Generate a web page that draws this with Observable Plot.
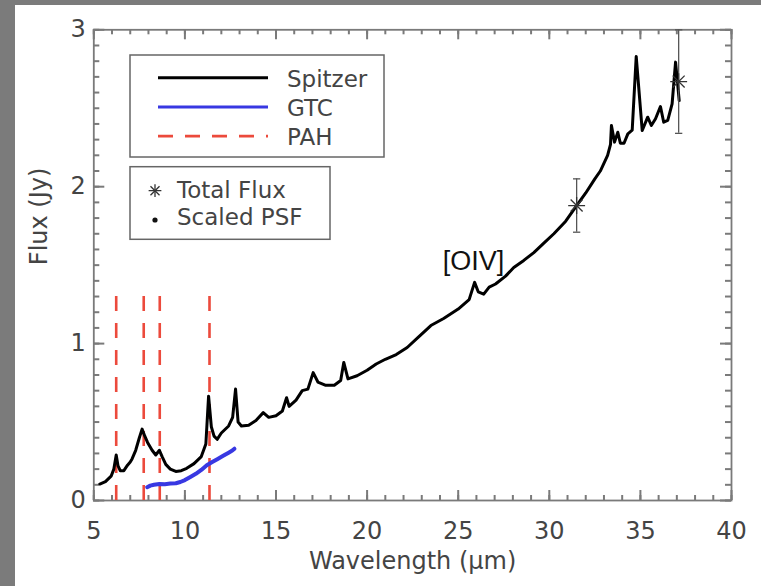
<!DOCTYPE html>
<html><head><meta charset="utf-8">
<script src="https://cdn.jsdelivr.net/npm/d3@7"></script>
<script src="https://cdn.jsdelivr.net/npm/@observablehq/plot@0.6"></script>
<style>
html,body{margin:0;padding:0;background:#7b7b7b;width:761px;height:586px;overflow:hidden}
#panel{position:absolute;left:15px;top:5px;width:746px;height:581px;background:#fff}
</style></head><body><div id="panel"></div>
<script>
// ---- data ----
const spitzerWave = [5.33,5.64,5.95,6.1,6.23,6.33,6.45,6.65,6.85,7.0,7.1,7.3,7.5,7.65,7.8,7.95,8.2,8.4,8.6,8.75,8.95,9.2,9.5,9.8,10.1,10.5,10.9,11.15,11.3,11.45,11.6,11.77,12.0,12.4,12.62,12.78,12.92,13.1,13.5,13.9,14.3,14.6,15.0,15.35,15.58,15.72,16.1,16.44,16.75,17.04,17.3,17.7,18.2,18.55,18.72,18.95,19.45,20.0,20.5,21.0,21.6,22.2,22.8,23.5,24.2,25.0,25.6,25.9,26.1,26.4,26.7,27.05,27.6,28.05,28.6,29.15,29.7,30.25,30.9,31.5,32.0,32.5,32.8,33.2,33.36,33.41,33.58,33.76,33.9,34.1,34.31,34.55,34.77,35.1,35.4,35.6,35.83,36.1,36.28,36.5,36.74,36.93,37.13];
const spitzerFlux = [0.105,0.12,0.155,0.2,0.29,0.22,0.19,0.19,0.225,0.245,0.265,0.32,0.4,0.455,0.41,0.37,0.32,0.29,0.32,0.28,0.23,0.2,0.185,0.19,0.205,0.235,0.28,0.36,0.665,0.47,0.41,0.39,0.43,0.475,0.53,0.71,0.5,0.475,0.48,0.51,0.56,0.53,0.54,0.57,0.655,0.6,0.64,0.70,0.71,0.815,0.755,0.735,0.735,0.765,0.88,0.775,0.795,0.83,0.87,0.9,0.93,0.975,1.04,1.115,1.16,1.22,1.28,1.39,1.33,1.315,1.36,1.38,1.43,1.485,1.53,1.58,1.64,1.70,1.78,1.88,1.96,2.05,2.10,2.2,2.27,2.39,2.284,2.347,2.277,2.277,2.337,2.36,2.83,2.358,2.443,2.39,2.433,2.511,2.411,2.422,2.528,2.794,2.549];

const gtcWave = [7.93,8.1,8.3,8.6,8.9,9.2,9.5,9.75,10.0,10.3,10.6,10.9,11.2,11.5,11.8,12.1,12.4,12.6,12.72];
const gtcFlux = [0.085,0.095,0.1,0.105,0.104,0.108,0.11,0.118,0.13,0.15,0.17,0.195,0.225,0.245,0.265,0.285,0.305,0.318,0.33];

const pahWave = [6.23,7.74,8.62,11.35];
const pahTop = 1.32;

const totalWave = [31.5,37.1];
const totalFlux = [1.88,2.67];
const totalLow  = [1.71,2.34];
const totalHigh = [2.05,3.0];

const annotText = ["[OIV]"];
const annotWave = [25.84];
const annotFlux = [1.47];

const xMajor = [5,10,15,20,25,30,35,40];
const xMinor = [5,6,7,8,9,10,11,12,13,14,15,16,17,18,19,20,21,22,23,24,25,26,27,28,29,30,31,32,33,34,35,36,37,38,39,40];
const yMajor = [0,1,2,3];
const yMinor = [0,0.1,0.2,0.3,0.4,0.5,0.6,0.7,0.8,0.9,1,1.1,1.2,1.3,1.4,1.5,1.6,1.7,1.8,1.9,2,2.1,2.2,2.3,2.4,2.5,2.6,2.7,2.8,2.9,3];

const legendLines = ["Spitzer","GTC","PAH"];
const legendSymbols = ["Total Flux","Scaled PSF"];

// ---- tables ----
const spitzer = spitzerWave.map((w,i)=>({w, f: spitzerFlux[i]}));
const gtc = gtcWave.map((w,i)=>({w, f: gtcFlux[i]}));
const totals = totalWave.map((w,i)=>({w, f: totalFlux[i], lo: totalLow[i], hi: totalHigh[i]}));
const annot = annotText.map((t,i)=>({t, w: annotWave[i], f: annotFlux[i]}));

// ---- layout ----
const W = 746, H = 581;
const mL = 78.3, mR = 30, mT = 24.3, mB = 86;
const FW = W - mL - mR, FH = H - mT - mB;
const xDom = [5, 40], yDom = [0, 3];
const tickC = "#7a7a7a", textC = "#444";
const capHalf = 0.2;
// tick lengths (pixels) converted to data units of the other axis
const pxY = (px) => px * (yDom[1] - yDom[0]) / FH;
const pxX = (px) => px * (xDom[1] - xDom[0]) / FW;
const tickStyle = {stroke: tickC, strokeWidth: 2};

const chart = Plot.plot({
  width: W, height: H,
  marginLeft: mL, marginRight: mR, marginTop: mT, marginBottom: mB,
  style: {fontFamily: "DejaVu Sans", fontSize: "24px", background: "white", color: textC},
  x: {domain: xDom, label: null},
  y: {domain: yDom, label: null},
  marks: [
    Plot.frame({stroke: tickC, fill: "none", strokeWidth: 1.8}),
    // tick labels
    Plot.axisX({anchor: "bottom", ticks: xMajor, tickSize: 0, tickPadding: 21, label: null, fill: textC, tickFormat: d3.format("d")}),
    Plot.axisY({anchor: "left", ticks: yMajor, tickSize: 0, tickPadding: 8, label: null, fill: textC, tickFormat: d3.format("d")}),
    // inner ticks (IDL style) on all four sides
    Plot.ruleX(xMinor, {x: d=>d, y1: yDom[0], y2: yDom[0] + pxY(5), ...tickStyle}),
    Plot.ruleX(xMajor, {x: d=>d, y1: yDom[0], y2: yDom[0] + pxY(10), ...tickStyle}),
    Plot.ruleX(xMinor, {x: d=>d, y1: yDom[1], y2: yDom[1] - pxY(5), ...tickStyle}),
    Plot.ruleX(xMajor, {x: d=>d, y1: yDom[1], y2: yDom[1] - pxY(10), ...tickStyle}),
    Plot.ruleY(yMinor, {y: d=>d, x1: xDom[0], x2: xDom[0] + pxX(6), ...tickStyle}),
    Plot.ruleY(yMajor, {y: d=>d, x1: xDom[0], x2: xDom[0] + pxX(11), ...tickStyle}),
    Plot.ruleY(yMinor, {y: d=>d, x1: xDom[1], x2: xDom[1] - pxX(6), ...tickStyle}),
    Plot.ruleY(yMajor, {y: d=>d, x1: xDom[1], x2: xDom[1] - pxX(11), ...tickStyle}),
    // PAH features
    Plot.ruleX(pahWave, {x: d=>d, y1: 0, y2: pahTop, stroke: "#ec4a3c", strokeWidth: 2.6, strokeDasharray: "15,12"}),
    // spectra
    Plot.line(spitzer, {x: "w", y: "f", stroke: "#000", strokeWidth: 3, strokeLinejoin: "round"}),
    Plot.line(gtc, {x: "w", y: "f", stroke: "#3838e2", strokeWidth: 4, strokeLinejoin: "round"}),
    // total flux with error bars
    Plot.ruleX(totals, {x: "w", y1: "lo", y2: "hi", stroke: "#555", strokeWidth: 1.3}),
    Plot.link(totals, {x1: d=>d.w - capHalf, x2: d=>d.w + capHalf, y1: "lo", y2: "lo", stroke: "#555", strokeWidth: 1.3}),
    Plot.link(totals, {x1: d=>d.w - capHalf, x2: d=>d.w + capHalf, y1: "hi", y2: "hi", stroke: "#555", strokeWidth: 1.3}),
    Plot.dot(totals, {x: "w", y: "f", symbol: "plus", r: 5.5, stroke: "#333", strokeWidth: 1.3}),
    Plot.dot(totals, {x: "w", y: "f", symbol: "times", r: 5.5, stroke: "#333", strokeWidth: 1.3}),
    // annotation
    Plot.text(annot, {x: "w", y: "f", text: "t", fontFamily: "Liberation Sans", fontSize: 27, fill: "#111", lineAnchor: "bottom"}),
    // axis titles
    Plot.text(["Wavelength (\u03bcm)"], {text: d=>d, frameAnchor: "bottom", lineAnchor: "top", dy: 51, fill: textC, fontSize: 24}),
    Plot.text(["Flux (Jy)"], {text: d=>d, frameAnchor: "left", rotate: -90, lineAnchor: "middle", dx: -54, fill: textC, fontSize: 24})
  ]
});

// ---- legend boxes (pixel space on top of the plot) ----
const svg = d3.select(chart);
const lg = svg.append("g").attr("font-family", "DejaVu Sans").attr("font-size", 23)
  .attr("fill", textC).attr("text-anchor", "start");
lg.append("rect").attr("x", 115).attr("y", 50).attr("width", 254).attr("height", 102)
  .attr("fill", "white").attr("stroke", "#666").attr("stroke-width", 1.5);
const lineStyles = [
  {stroke: "#000", width: 3, dash: null},
  {stroke: "#3838e2", width: 3, dash: null},
  {stroke: "#ec4a3c", width: 2.6, dash: "15,12"}
];
legendLines.forEach((name, i) => {
  const yy = 72.7 + i * 29.2;
  lg.append("line").attr("x1", 143).attr("x2", 253).attr("y1", yy).attr("y2", yy)
    .attr("stroke", lineStyles[i].stroke).attr("stroke-width", lineStyles[i].width)
    .attr("stroke-dasharray", lineStyles[i].dash);
  lg.append("text").attr("x", 272).attr("y", yy + 9).attr("text-anchor", "start").text(name);
});
lg.append("rect").attr("x", 115).attr("y", 161.7).attr("width", 200).attr("height", 72.6)
  .attr("fill", "white").attr("stroke", "#666").attr("stroke-width", 1.5);
lg.append("path").attr("transform", "translate(140,185.7)").attr("d", d3.symbol(d3.symbolPlus, 55)())
  .attr("fill", "none").attr("stroke", "#333").attr("stroke-width", 1.3);
lg.append("path").attr("transform", "translate(140,185.7)").attr("d", d3.symbol(d3.symbolTimes, 55)())
  .attr("fill", "none").attr("stroke", "#333").attr("stroke-width", 1.3);
lg.append("circle").attr("cx", 140).attr("cy", 215).attr("r", 2.6).attr("fill", "#111");
legendSymbols.forEach((name, i) => {
  lg.append("text").attr("x", 162).attr("y", 193 + i * 27).attr("text-anchor", "start").text(name);
});

document.getElementById("panel").appendChild(chart);
</script>
</body></html>
